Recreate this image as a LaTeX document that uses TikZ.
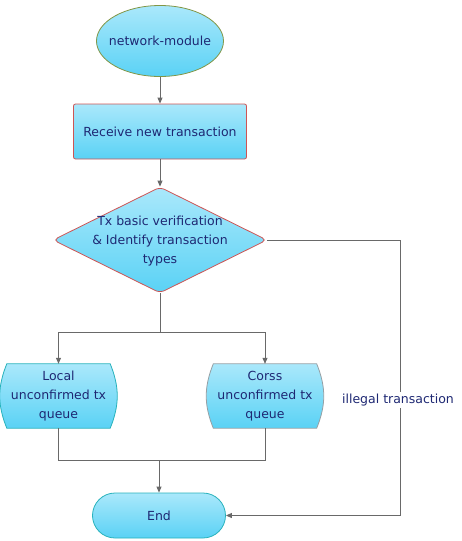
\documentclass[tikz,border=0pt]{standalone}
\usepackage{fontspec}
\setmainfont{DejaVu Sans}
\usetikzlibrary{shapes.geometric,backgrounds,arrows.meta}
\definecolor{txtblue}{RGB}{30,40,115}
\definecolor{lightsky}{RGB}{170,232,251}
\definecolor{sky}{RGB}{90,210,245}
\definecolor{linegray}{RGB}{105,105,105}
\definecolor{redline}{RGB}{205,85,85}
\definecolor{tealline}{RGB}{40,178,188}
\definecolor{oliveline}{RGB}{130,150,70}
\definecolor{greyline}{RGB}{150,160,165}
\tikzset{
  glossy/.style={top color=lightsky,bottom color=sky,line width=0.8pt},
  flow/.style={draw=linegray,line width=0.8pt},
  tip/.style={-{Triangle[length=6pt,width=5pt]}}
}

\begin{document}
\begin{tikzpicture}[x=1pt,y=-1pt,font=\fontsize{12.5}{19}\selectfont,text=txtblue]
      \useasboundingbox (0,0) rectangle (461,541);
      \begin{scope}[every node/.style={glossy}]
        \node[ellipse,draw=oliveline,minimum width=127,minimum height=71] (net) at (160,41) {\makebox[0pt]{network-module}};
        \node[rectangle,draw=redline,rounded corners=2pt,minimum width=173,minimum height=55] (recv) at (160,131.5) {Receive new transaction};
        \node[diamond,draw=redline,rounded corners=5pt,minimum width=214,minimum height=106] (verify) at (160,240) {};
        \node[rectangle,draw=tealline,rounded corners=22.5pt,minimum width=133,minimum height=45] (end) at (159,515.5) {End};
      \end{scope}
      \node[align=center] (verifytxt) at (160,241) {Tx basic verification\\ \& Identify transaction\\ types};
      \node[align=center,minimum width=103,minimum height=64] (local) at (58.5,396) {Local\\ unconfirmed tx\\ queue};
      \node[align=center,minimum width=103,minimum height=64] (cross) at (265,396) {Corss\\ unconfirmed tx\\ queue};
      \begin{scope}[on background layer]
        \shadedraw[glossy,draw=tealline] (local.north west) to[bend right=22] (local.south west) -- (local.south east) to[bend right=22] (local.north east) -- cycle;
        \shadedraw[glossy,draw=greyline] (cross.north west) to[bend right=22] (cross.south west) -- (cross.south east) to[bend right=22] (cross.north east) -- cycle;
      \end{scope}
      \coordinate (split) at (160,332);
      \coordinate (join) at (159,460);
      \coordinate (bypass) at (400,240);
      \begin{scope}[every path/.style={flow}]
        \path[tip] (net) edge (recv);
        \path[tip] (recv) edge (verify);
        \draw (verify.south) -- (split);
        \draw[tip] (split) -| (local.north);
        \draw[tip] (split) -| (cross.north);
        \draw (local.south) |- (join);
        \draw (cross.south) |- (join);
        \draw[tip] (join) -- (end.north);
        \draw[tip] (verify.east) -- (bypass) |- (end.east);
      \end{scope}
      \node[fill=white,inner sep=2pt] (illegal) at (398,400) {illegal transaction};
    \end{tikzpicture}
\end{document}
